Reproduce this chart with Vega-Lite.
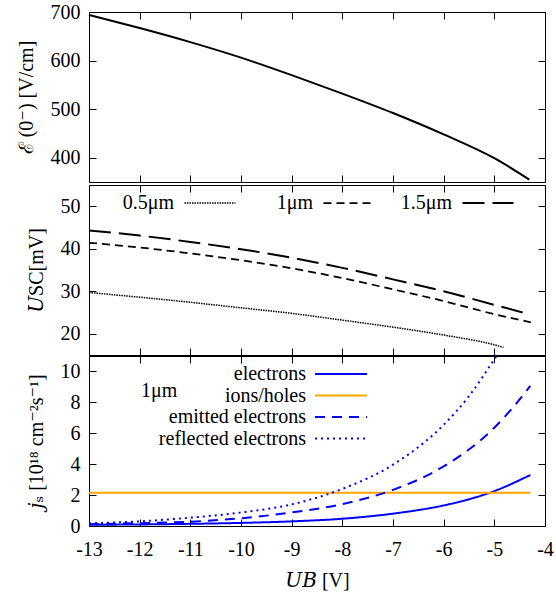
{
  "$schema": "https://vega.github.io/schema/vega-lite/v6.json",
  "padding": {"left": 15, "top": 1, "right": 9, "bottom": 2},
  "spacing": -3,
  "resolve": {
    "scale": {"strokeDash": "independent", "color": "independent", "strokeWidth": "independent"},
    "legend": {"strokeDash": "independent", "color": "independent", "strokeWidth": "independent"}
  },
  "datasets": {
    "efield": [
      {"U": -13, "E": 694}, {"U": -12, "E": 667}, {"U": -11, "E": 638}, {"U": -10, "E": 606},
      {"U": -9, "E": 570}, {"U": -8, "E": 532}, {"U": -7, "E": 492}, {"U": -6, "E": 448},
      {"U": -5, "E": 399}, {"U": -4.31, "E": 355}
    ],
    "usc": [
      {"d": "0.5μm", "U": -13, "V": 29.7}, {"d": "0.5μm", "U": -12, "V": 28.6}, {"d": "0.5μm", "U": -11, "V": 27.4},
      {"d": "0.5μm", "U": -10, "V": 26.1}, {"d": "0.5μm", "U": -9, "V": 24.8}, {"d": "0.5μm", "U": -8, "V": 23.2},
      {"d": "0.5μm", "U": -7, "V": 21.55}, {"d": "0.5μm", "U": -6, "V": 19.7}, {"d": "0.5μm", "U": -5, "V": 17.4},
      {"d": "0.5μm", "U": -4.82, "V": 16.8},
      {"d": "1μm", "U": -13, "V": 41.4}, {"d": "1μm", "U": -12, "V": 40.3}, {"d": "1μm", "U": -11, "V": 38.9},
      {"d": "1μm", "U": -10, "V": 37.3}, {"d": "1μm", "U": -9, "V": 35.4}, {"d": "1μm", "U": -8, "V": 33.1},
      {"d": "1μm", "U": -7, "V": 30.45}, {"d": "1μm", "U": -6, "V": 27.7}, {"d": "1μm", "U": -5, "V": 24.6},
      {"d": "1μm", "U": -4.28, "V": 22.7},
      {"d": "1.5μm", "U": -13, "V": 44.3}, {"d": "1.5μm", "U": -12, "V": 43.1}, {"d": "1.5μm", "U": -11, "V": 41.6},
      {"d": "1.5μm", "U": -10, "V": 39.9}, {"d": "1.5μm", "U": -9, "V": 37.9}, {"d": "1.5μm", "U": -8, "V": 35.5},
      {"d": "1.5μm", "U": -7, "V": 32.8}, {"d": "1.5μm", "U": -6, "V": 30.0}, {"d": "1.5μm", "U": -5, "V": 26.8},
      {"d": "1.5μm", "U": -4.31, "V": 24.6}
    ],
    "js": [
      {"s": "electrons", "U": -13, "j": 0.08}, {"s": "electrons", "U": -12, "j": 0.1}, {"s": "electrons", "U": -11, "j": 0.14},
      {"s": "electrons", "U": -10, "j": 0.2}, {"s": "electrons", "U": -9, "j": 0.3}, {"s": "electrons", "U": -8, "j": 0.47},
      {"s": "electrons", "U": -7, "j": 0.8}, {"s": "electrons", "U": -6, "j": 1.33}, {"s": "electrons", "U": -5.5, "j": 1.73},
      {"s": "electrons", "U": -5, "j": 2.26}, {"s": "electrons", "U": -4.29, "j": 3.3},
      {"s": "ions/holes", "U": -13, "j": 2.15}, {"s": "ions/holes", "U": -4.29, "j": 2.15},
      {"s": "emitted electrons", "U": -13, "j": 0.12}, {"s": "emitted electrons", "U": -12, "j": 0.18},
      {"s": "emitted electrons", "U": -11, "j": 0.28}, {"s": "emitted electrons", "U": -10, "j": 0.5},
      {"s": "emitted electrons", "U": -9, "j": 0.88}, {"s": "emitted electrons", "U": -8, "j": 1.42},
      {"s": "emitted electrons", "U": -7, "j": 2.34}, {"s": "emitted electrons", "U": -6, "j": 3.86},
      {"s": "emitted electrons", "U": -5, "j": 6.36}, {"s": "emitted electrons", "U": -4.6, "j": 7.8},
      {"s": "emitted electrons", "U": -4.29, "j": 9.07},
      {"s": "reflected electrons", "U": -13, "j": 0.17}, {"s": "reflected electrons", "U": -12, "j": 0.3},
      {"s": "reflected electrons", "U": -11, "j": 0.54}, {"s": "reflected electrons", "U": -10, "j": 0.87},
      {"s": "reflected electrons", "U": -9, "j": 1.4}, {"s": "reflected electrons", "U": -8, "j": 2.4},
      {"s": "reflected electrons", "U": -7, "j": 3.97}, {"s": "reflected electrons", "U": -6, "j": 6.55},
      {"s": "reflected electrons", "U": -5.5, "j": 8.4}, {"s": "reflected electrons", "U": -5, "j": 10.8},
      {"s": "reflected electrons", "U": -4.96, "j": 11.0}
    ]
  },
  "config": {
    "font": "Liberation Serif",
    "view": {"stroke": "black", "strokeWidth": 1},
    "axis": {
      "labelFont": "Liberation Serif", "labelFontSize": 20, "labelColor": "black",
      "titleFont": "'Liberation Serif', 'DejaVu Serif', serif", "titleFontSize": 20, "titleFontWeight": "normal", "titleColor": "black",
      "tickColor": "black", "tickSize": 7, "tickWidth": 1, "offset": -7, "domain": false, "grid": false,
      "labelPadding": 9, "titlePadding": 14, "labelFlush": false, "labelOverlap": false, "minExtent": 0,
      "labelExpr": "replace(datum.label, '−', '-')"
    },
    "legend": {
      "labelFont": "Liberation Serif", "labelFontSize": 20, "labelColor": "black", "labelLimit": 400,
      "titleFont": "Liberation Serif", "titleFontSize": 20, "titleFontWeight": "normal", "titleColor": "black",
      "symbolStrokeWidth": 2, "symbolSize": 400, "padding": 0, "orient": "none"
    }
  },
  "vconcat": [
    {
      "width": 456, "height": 170,
      "data": {"name": "efield"},
      "layer": [
        {
          "mark": {"type": "line", "color": "black", "strokeWidth": 2, "interpolate": "monotone"},
          "encoding": {
            "x": {"field": "U", "type": "quantitative", "scale": {"domain": [-13, -4], "nice": false},
                  "axis": {"orient": "bottom", "labels": false, "title": null, "values": [-13, -12, -11, -10, -9, -8, -7, -6, -5, -4]}},
            "y": {"field": "E", "type": "quantitative", "scale": {"domain": [350, 700], "nice": false, "zero": false},
                  "axis": {"orient": "left", "values": [400, 500, 600, 700], "title": "ℰ (0⁻) [V/cm]"}}
          }
        },
        {
          "mark": {"type": "line", "opacity": 0},
          "encoding": {
            "x": {"field": "U", "type": "quantitative", "scale": {"domain": [-13, -4], "nice": false},
                  "axis": {"orient": "top", "labels": false, "title": null, "values": [-13, -12, -11, -10, -9, -8, -7, -6, -5, -4]}},
            "y": {"field": "E", "type": "quantitative", "scale": {"domain": [350, 700], "nice": false, "zero": false},
                  "axis": {"orient": "right", "labels": false, "title": null, "values": [400, 500, 600, 700]}}
          }
        }
      ],
      "resolve": {"axis": {"x": "independent", "y": "independent"}}
    },
    {
      "width": 456, "height": 170,
      "data": {"name": "usc"},
      "layer": [
        {
          "mark": {"type": "line", "color": "black", "interpolate": "monotone"},
          "encoding": {
            "x": {"field": "U", "type": "quantitative", "scale": {"domain": [-13, -4], "nice": false},
                  "axis": {"orient": "bottom", "labels": false, "title": null, "values": [-13, -12, -11, -10, -9, -8, -7, -6, -5, -4]}},
            "y": {"field": "V", "type": "quantitative", "scale": {"domain": [15, 55], "nice": false, "zero": false},
                  "axis": {"orient": "left", "values": [20, 30, 40, 50], "title": "𝑈SC[mV]"}},
            "strokeDash": {"field": "d", "type": "nominal",
              "scale": {"domain": ["0.5μm", "1μm", "1.5μm"], "range": [[1.5, 1], [8, 5], [22, 8]]},
              "legend": {"direction": "horizontal", "title": null, "legendX": 29, "legendY": 7, "columnPadding": 18,
                "symbolStrokeColor": "black", "symbolType": "M-2.55,0L2.55,0",
                "encode": {"labels": {"update": {"x": {"value": 56}, "align": {"value": "right"}}},
                           "symbols": {"update": {"x": {"value": 92}, "shape": {"value": "M-2.55,0L2.55,0"}}}}}},
            "strokeWidth": {"field": "d", "type": "nominal",
              "scale": {"domain": ["0.5μm", "1μm", "1.5μm"], "range": [1.5, 2, 2]}, "legend": null}
          }
        },
        {
          "mark": {"type": "line", "opacity": 0},
          "encoding": {
            "x": {"field": "U", "type": "quantitative", "scale": {"domain": [-13, -4], "nice": false},
                  "axis": {"orient": "top", "labels": false, "title": null, "values": [-13, -12, -11, -10, -9, -8, -7, -6, -5, -4]}},
            "y": {"field": "V", "type": "quantitative", "scale": {"domain": [15, 55], "nice": false, "zero": false},
                  "axis": {"orient": "right", "labels": false, "title": null, "values": [20, 30, 40, 50]}},
            "detail": {"field": "d"}
          }
        }
      ],
      "resolve": {"axis": {"x": "independent", "y": "independent"}}
    },
    {
      "width": 456, "height": 170,
      "data": {"name": "js"},
      "layer": [
        {
          "mark": {"type": "line", "strokeWidth": 2, "interpolate": "monotone", "clip": true},
          "encoding": {
            "x": {"field": "U", "type": "quantitative", "scale": {"domain": [-13, -4], "nice": false},
                  "axis": {"orient": "bottom", "title": "𝑈𝐵 [V]", "values": [-13, -12, -11, -10, -9, -8, -7, -6, -5, -4],
                           "labelPadding": 13, "titlePadding": 11}},
            "y": {"field": "j", "type": "quantitative", "scale": {"domain": [0, 11], "nice": false},
                  "axis": {"orient": "left", "values": [0, 2, 4, 6, 8, 10], "title": "𝑗ₛ [10¹⁸ cm⁻²s⁻¹]"}},
            "color": {"field": "s", "type": "nominal",
              "scale": {"domain": ["electrons", "ions/holes", "emitted electrons", "reflected electrons"],
                        "range": ["#0000ff", "#ffa500", "#0000ff", "#0000ff"]},
              "legend": {"title": "1μm", "titleOrient": "left", "titleAnchor": "start", "titleBaseline": "top", "titlePadding": 0,
                "legendX": 20, "legendY": 7, "rowPadding": 0.5, "symbolType": "M-2.6,0L2.6,0",
                "encode": {"labels": {"update": {"x": {"value": 160}, "align": {"value": "right"}}},
                           "symbols": {"update": {"x": {"value": 195}, "shape": {"value": "M-2.6,0L2.6,0"}}},
                           "title": {"update": {"dx": {"value": 32}, "dy": {"value": 18}}}}}},
            "strokeDash": {"field": "s", "type": "nominal",
              "scale": {"domain": ["electrons", "ions/holes", "emitted electrons", "reflected electrons"],
                        "range": [[1, 0], [1, 0], [10, 7], [2, 4]]}}
          }
        },
        {
          "mark": {"type": "line", "opacity": 0},
          "encoding": {
            "x": {"field": "U", "type": "quantitative", "scale": {"domain": [-13, -4], "nice": false},
                  "axis": {"orient": "top", "labels": false, "title": null, "values": [-13, -12, -11, -10, -9, -8, -7, -6, -5, -4]}},
            "y": {"field": "j", "type": "quantitative", "scale": {"domain": [0, 11], "nice": false},
                  "axis": {"orient": "right", "labels": false, "title": null, "values": [0, 2, 4, 6, 8, 10]}},
            "detail": {"field": "s"}
          }
        }
      ],
      "resolve": {"axis": {"x": "independent", "y": "independent"}}
    }
  ]
}
